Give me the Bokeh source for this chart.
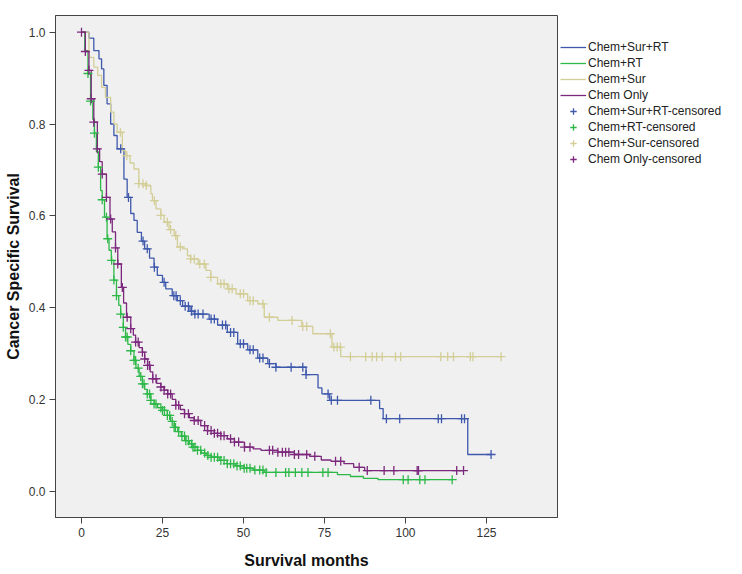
import numpy as np
from bokeh.plotting import figure
from bokeh.models import Range1d, Legend, LegendItem, NumeralTickFormatter, FixedTicker
from bokeh.embed import file_html
from bokeh.resources import INLINE

# ---------------- data ----------------
groups = ["Chem+Sur+RT", "Chem+RT", "Chem+Sur", "Chem Only"]
colors = ["#3E58AC", "#2EB848", "#D3CE97", "#7C287D"]

# Chem+Sur+RT
csr_t = [0, 2.3, 3.8, 5.4, 6.2, 6.9, 7.9, 9, 10, 11, 13.1, 14.1, 15.2, 16.2, 17.2, 18.5, 19.5, 21,
         22.4, 23.4, 25, 26, 28, 29.6, 31.2, 33.5, 34.8, 39.4, 42, 45, 48.2, 51.3, 54.4, 57.5, 60,
         69.3, 73, 74.2, 76.6, 92, 93.1, 119.2]
csr_s = [1.0, 0.987, 0.960, 0.942, 0.920, 0.884, 0.844, 0.800, 0.775, 0.746, 0.680, 0.640, 0.605,
         0.590, 0.564, 0.545, 0.528, 0.508, 0.488, 0.470, 0.455, 0.441, 0.426, 0.415, 0.403, 0.392,
         0.386, 0.375, 0.362, 0.346, 0.321, 0.308, 0.290, 0.278, 0.270, 0.254, 0.225, 0.212, 0.198,
         0.180, 0.158, 0.080]
csr_c = [12.1, 14.5, 19, 20.3, 22.5, 25.5, 28.5, 29.2, 30.5, 32, 33, 34, 35, 36, 37.5, 40, 41, 43.5,
         44.5, 46, 47, 49, 50, 52, 53, 55, 56, 58, 60, 64.7, 68.3, 69.3, 76.1, 77.1, 79, 89.3, 94.1,
         98.2, 110.1, 111.1, 117.3, 118.2, 126.4]

# Chem+RT
cr_t = [0, 1.0, 2.0, 2.8, 3.5, 4.0, 4.6, 5.2, 5.9, 6.4, 7.1, 7.9, 8.5, 9.2, 10, 10.8, 11.5, 12.1,
        12.9, 13.6, 14.3, 15.2, 16.2, 16.8, 17.8, 18.8, 19.5, 20.3, 21.4, 22.4, 23.5, 25, 26.5,
        27.5, 28.6, 29.7, 30.8, 32.2, 33.3, 34.4, 35.8, 37, 38.5, 40, 42.5, 45, 47.5, 50.2, 53,
        56.4, 79, 83, 87, 91.5]
cr_s = [1.0, 0.96, 0.91, 0.85, 0.81, 0.78, 0.74, 0.706, 0.655, 0.635, 0.597, 0.550, 0.525, 0.503,
        0.460, 0.426, 0.405, 0.386, 0.357, 0.336, 0.320, 0.306, 0.285, 0.268, 0.250, 0.234, 0.222,
        0.212, 0.198, 0.190, 0.182, 0.176, 0.165, 0.152, 0.139, 0.130, 0.120, 0.110, 0.103, 0.096,
        0.089, 0.083, 0.078, 0.074, 0.067, 0.060, 0.055, 0.050, 0.046, 0.041, 0.036, 0.032, 0.028,
        0.025]
cr_c = [2.0, 2.8, 4.0, 5.2, 6.4, 7.7, 8.1, 9.3, 10, 10.8, 12.1, 12.9, 13.6, 14.1, 15.2, 16.2, 16.7,
        17.5, 18.3, 18.8, 19.3, 20.3, 21, 21.4, 22.4, 23, 24.5, 25, 25.6, 26.5, 27.2, 28, 28.6, 29,
        30, 31, 31.8, 32.2, 33, 34, 34.4, 35, 35.8, 36.8, 38, 39, 40, 41, 42, 43, 44, 45, 46, 47, 48,
        49, 50.2, 51, 52, 53.5, 55, 56, 57, 60, 63, 64, 66, 68, 69.9, 74.5, 76.1, 99.3, 100.8, 104.4,
        106, 114.4]

# Chem+Sur
cs_t = [0, 2.3, 3.8, 5, 6.2, 7.4, 9, 10, 11, 12.6, 13.6, 15, 16.2, 17.7, 19.8, 21.4, 21.9, 23, 24.5,
        25.5, 27, 28.6, 29.6, 31.2, 32.7, 33.7, 36, 38.4, 39.9, 42, 45, 47.7, 51.3, 54.4, 56.4, 60.6,
        68, 71.4, 77.3, 80]
cs_s = [1.0, 0.945, 0.924, 0.906, 0.88, 0.858, 0.826, 0.800, 0.782, 0.742, 0.731, 0.715, 0.702,
        0.670, 0.666, 0.648, 0.633, 0.615, 0.601, 0.586, 0.570, 0.557, 0.532, 0.528, 0.513, 0.506,
        0.495, 0.481, 0.466, 0.452, 0.441, 0.430, 0.415, 0.408, 0.379, 0.372, 0.359, 0.343, 0.314,
        0.293]
cs_c = [12, 14, 17.7, 19, 20, 22.5, 24.5, 26.5, 27.5, 29.1, 30.5, 33.7, 34.8, 36.5, 37.9, 39.9, 43,
        44, 45.5, 46.5, 49, 50, 52, 53, 56, 58, 65, 68.3, 69.5, 76.8, 77.9, 78.9, 79.9, 83, 87.7,
        89.7, 91.1, 92.8, 96.9, 98.5, 110.9, 113, 114.8, 120, 120.8, 129.5]

# Chem Only
co_t = [0, 1.2, 2.3, 3.0, 3.8, 4.9, 5.6, 6.4, 7.7, 8.8, 9.5, 10.5, 11.2, 12.3, 13.0, 13.9, 15.2,
        16.0, 16.7, 17.8, 18.8, 19.5, 20.4, 21.2, 22, 23.2, 24.5, 25.5, 26.6, 28, 29.1, 30.5, 31.8,
        33.3, 34.8, 36.8, 38.9, 41, 43, 45, 47.2, 50.3, 53, 55.4, 60.6, 65.7, 70.4, 74, 77, 81, 84,
        87.4]
co_s = [1.0, 0.958, 0.917, 0.855, 0.804, 0.746, 0.718, 0.691, 0.640, 0.593, 0.565, 0.530, 0.495,
        0.444, 0.41, 0.379, 0.354, 0.340, 0.325, 0.313, 0.303, 0.288, 0.274, 0.260, 0.245, 0.235,
        0.227, 0.220, 0.212, 0.200, 0.187, 0.178, 0.169, 0.160, 0.154, 0.143, 0.132, 0.126, 0.121,
        0.114, 0.107, 0.096, 0.092, 0.089, 0.085, 0.080, 0.076, 0.068, 0.065, 0.060, 0.052, 0.045]
co_c = [0, 1.2, 2.3, 3.0, 3.8, 4.9, 6.4, 7.7, 9.0, 10.5, 11.2, 12.6, 14.1, 15.2, 16.7, 17.5, 18.8,
        19.5, 20.4, 21, 22, 23, 24.5, 25.5, 26.6, 27.5, 29.1, 30, 31.8, 33, 34.8, 36, 38, 38.9, 40,
        41, 42, 43, 44, 46, 47.2, 48.5, 50.3, 52, 58, 59, 60.6, 62, 63, 64, 65.7, 67, 69.5, 72, 78.4,
        80, 85.7, 88.2, 93.4, 96.4, 103.6, 104, 115.8, 117.9]

x_ticks = [0, 25, 50, 75, 100, 125]
y_ticks = [0.0, 0.2, 0.4, 0.6, 0.8, 1.0]

series = [(csr_t, csr_s, csr_c), (cr_t, cr_s, cr_c), (cs_t, cs_s, cs_c), (co_t, co_s, co_c)]

# ---------------- figure ----------------
FONT = "Liberation Sans"
p = figure(frame_width=502, frame_height=502, output_backend="svg", toolbar_location=None,
           x_range=Range1d(-8.02, 146.9), y_range=Range1d(-0.0573, 1.0364),
           min_border_left=55, min_border_top=15, min_border_bottom=55, min_border_right=179)
p.background_fill_color = "#F0F0F0"
p.border_fill_color = "white"
p.outline_line_color = "#444444"
p.outline_line_width = 1
p.xgrid.visible = False
p.ygrid.visible = False

step_renderers = []
cens_renderers = []
for (t, s, c), col in zip(series, colors):
    t_end = max(c[-1], t[-1])
    xs = list(t) + [t_end]
    ys = list(s) + [s[-1]]
    r = p.step(xs, ys, mode="after", line_color=col, line_width=1.3)
    step_renderers.append(r)
for (t, s, c), col in zip(series, colors):
    idx = np.searchsorted(np.array(t), np.array(c), side="right") - 1
    cy = np.array(s)[idx]
    r = p.scatter(c, cy, marker="cross", size=9, line_color=col, line_width=1.3)
    cens_renderers.append(r)

dummy = [p.line([], [], line_color=col, line_width=1.3) for col in colors]

items = [LegendItem(label=g, renderers=[r]) for g, r in zip(groups, step_renderers)]
items += [LegendItem(label=g + "-censored", renderers=[d, r])
          for g, d, r in zip(groups, dummy, cens_renderers)]

legend = Legend(items=items, location=(3, 350), padding=0, spacing=0, margin=0,
                label_height=16, glyph_height=16, glyph_width=26, label_standoff=2,
                border_line_color=None, background_fill_alpha=0,
                label_text_font=FONT, label_text_font_size="12px", label_text_color="#222222")
p.add_layout(legend, "right")

for ax in (p.xaxis[0], p.yaxis[0]):
    ax.axis_line_color = "#444444"
    ax.major_tick_line_color = "#444444"
    ax.major_tick_out = 6
    ax.major_tick_in = 0
    ax.minor_tick_line_color = None
    ax.major_label_text_font = FONT
    ax.major_label_text_font_size = "12px"
    ax.major_label_text_color = "#333333"
    ax.axis_label_text_font = FONT
    ax.axis_label_text_font_size = "16px"
    ax.axis_label_text_font_style = "bold"
    ax.axis_label_text_color = "#111111"

p.xaxis.ticker = FixedTicker(ticks=x_ticks)
p.yaxis.ticker = FixedTicker(ticks=y_ticks)
p.yaxis.formatter = NumeralTickFormatter(format="0.0")
p.xaxis.axis_label = "Survival months"
p.yaxis.axis_label = "Cancer Specific Survival"
p.xaxis.major_label_standoff = 4
p.xaxis.axis_label_standoff = 12
p.yaxis.major_label_standoff = 4
p.yaxis.axis_label_standoff = 4

open("out.html", "w").write(file_html(p, INLINE))
